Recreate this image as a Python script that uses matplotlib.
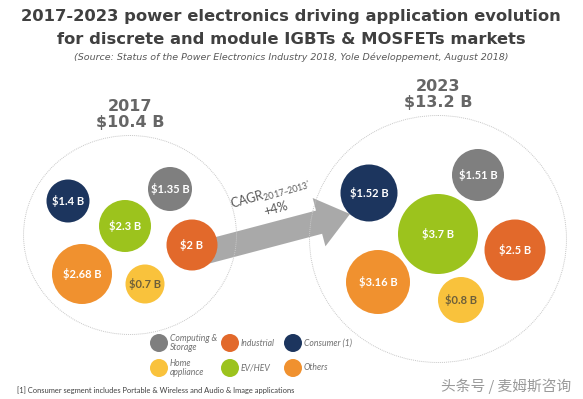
import matplotlib.pyplot as plt
from matplotlib.patches import Circle, Ellipse, FancyArrow

# data
segments = ["Computing &\nStorage", "Industrial", "Consumer (1)",
            "Home\nappliance", "EV/HEV", "Others"]
values_2017 = [1.35, 2.0, 1.4, 0.7, 2.3, 2.68]
values_2023 = [1.51, 2.5, 1.52, 0.8, 3.7, 3.16]
years = [2017, 2023]
totals = [10.4, 13.2]
cagr = 4

colors = ["#7f7f7f", "#e2692b", "#1c355e", "#f9c23c", "#9cc31d", "#f0912f"]
text_colors = ["white", "white", "white", "#6d5f3a", "white", "white"]

# layout in pixels (x, y, radius), same order as segments
layout_2017 = [(170, 189, 22), (192, 245, 25.5), (68, 201, 21.5),
               (145, 284, 19.5), (125, 226, 26), (82, 274, 30)]
layout_2023 = [(478, 175, 26), (515, 250, 30.5), (369, 193, 28.5),
               (461, 300, 23), (438, 234, 40), (378, 282, 32)]
outer = [(130, 235, 213, 199), (438, 239, 257, 247)]

TITLE = "#404040"
GREY = "#666666"

fig = plt.figure(figsize=(5.83, 3.99), dpi=100)
ax = fig.add_axes([0, 0, 1, 1])
ax.set_xlim(0, 583)
ax.set_ylim(399, 0)
ax.axis("off")

ax.text(291, 17, "2017-2023 power electronics driving application evolution",
        ha="center", va="center", fontsize=11.8, fontweight="bold", color=TITLE)
ax.text(291, 39.5, "for discrete and module IGBTs & MOSFETs markets",
        ha="center", va="center", fontsize=11.8, fontweight="bold", color=TITLE)
ax.text(291, 57.5, "(Source: Status of the Power Electronics Industry 2018, "
        "Yole Développement, August 2018)",
        ha="center", va="center", fontsize=6.8, style="italic", color="#595959")

# arrow between the two years
arrow = FancyArrow(206, 252, 144, -38, width=24, head_width=50, head_length=32,
                   length_includes_head=True, color="#a9a9a9", lw=0, zorder=1)
ax.add_patch(arrow)
ax.text(271, 194, r"CAGR$_{\mathregular{2017–2013^{*}}}$", rotation=16,
        ha="center", va="center", fontsize=9, color="#595959",
        family="Lato", zorder=3)
ax.text(276, 209, "+%d%%" % cagr, rotation=16, ha="center", va="center",
        fontsize=9, color="#595959", family="Lato", zorder=3)

# outer dotted circles + year headers
for (cx, cy, w, h), yr, tot in zip(outer, years, totals):
    ax.add_patch(Ellipse((cx, cy), w, h, fill=False, ec="#c8c8c8", lw=0.7,
                         ls=(0, (1, 1)), zorder=2))
    top = cy - h / 2
    ax.text(cx, top - 29, str(yr), ha="center", va="center", fontsize=11.5,
            fontweight="bold", color=GREY)
    ax.text(cx, top - 13, "$%.1f B" % tot, ha="center", va="center",
            fontsize=11.5, fontweight="bold", color=GREY, parse_math=False)

# bubbles
for values, layout in [(values_2017, layout_2017), (values_2023, layout_2023)]:
    for v, (x, y, r), c, tc in zip(values, layout, colors, text_colors):
        ax.add_patch(Circle((x, y), r, color=c, lw=0, zorder=4))
        ax.text(x, y, "$%g B" % v, ha="center", va="center", fontsize=8,
                fontweight="bold", color=tc, family="Lato", zorder=5,
                parse_math=False)

# legend
leg_x = [159, 230, 293]
leg_y = [343, 368]
for i, (name, c) in enumerate(zip(segments, colors)):
    x = leg_x[i % 3]
    y = leg_y[i // 3]
    ax.add_patch(Circle((x, y), 9, color=c, lw=0, zorder=4))
    ax.text(x + 11, y, name, ha="left", va="center", fontsize=6.2,
            style="italic", color="#707070", family="Lato", linespacing=0.9)

ax.text(17, 390, "[1] Consumer segment includes Portable & Wireless and Audio & Image applications",
        ha="left", va="center", fontsize=5.4, color="#404040", family="Lato")
ax.text(506, 386, "头条号 / 麦姆斯咨询", ha="center", va="center", fontsize=10.6,
        color="#9a9a9a", family=["Noto Sans CJK SC", "DejaVu Sans"])

fig.savefig("out.png", dpi=100)
